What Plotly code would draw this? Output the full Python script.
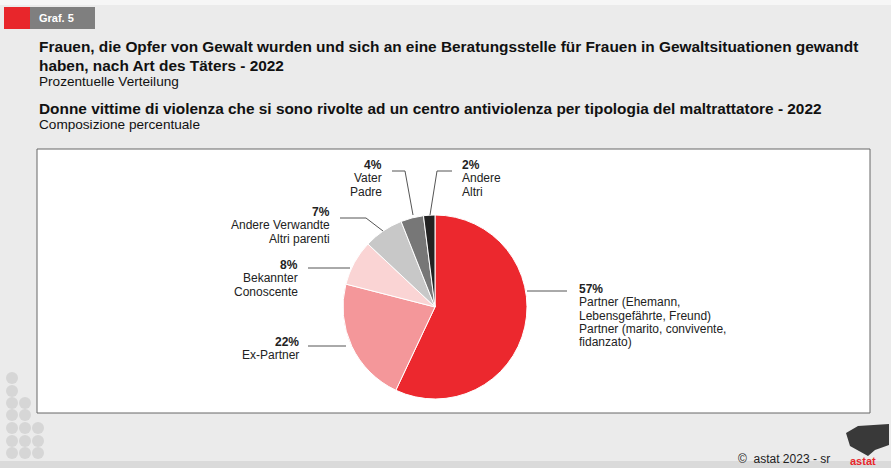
import plotly.graph_objects as go

# ---- data ----
categories = ["Partner", "Ex-Partner", "Bekannter", "Andere Verwandte", "Vater", "Andere"]
values = [57, 22, 8, 7, 4, 2]
label_lines = [
    ["Partner (Ehemann,", "Lebensgefährte, Freund)", "Partner (marito, convivente,", "fidanzato)"],
    ["Ex-Partner"],
    ["Bekannter", "Conoscente"],
    ["Andere Verwandte", "Altri parenti"],
    ["Vater", "Padre"],
    ["Andere", "Altri"],
]
colors = ["#ec282e", "#f4979a", "#fad4d4", "#c8c8c8", "#777777", "#222222"]

W, H = 891, 468
FONT = "Liberation Sans, Arial, sans-serif"


def px(x):
    return x / W


def py(y):
    return 1 - y / H


# pie geometry (pixels)
cx, cy, r = 435, 307, 92

fig = go.Figure()
fig.add_trace(go.Pie(
    labels=categories, values=values, sort=False, direction="clockwise",
    rotation=0, textinfo="none", hoverinfo="label+percent",
    marker=dict(colors=colors, line=dict(color="white", width=1)),
    domain=dict(x=[px(cx - r), px(cx + r)], y=[py(cy + r), py(cy - r)]),
    showlegend=False,
))

shapes = []
# bottom band
shapes.append(dict(type="rect", xref="paper", yref="paper",
                   x0=0, x1=1, y0=0, y1=py(461),
                   fillcolor="#dadada", line=dict(width=0), layer="below"))
# top header strip
shapes.append(dict(type="rect", xref="paper", yref="paper",
                   x0=0, x1=1, y0=py(5), y1=1,
                   fillcolor="#f6f6f6", line=dict(width=0), layer="below"))
# outer white chart panel
shapes.append(dict(type="rect", xref="paper", yref="paper",
                   x0=px(37), x1=px(870), y0=py(413), y1=py(149),
                   fillcolor="white", line=dict(color="#666666", width=1), layer="below"))
# header boxes
shapes.append(dict(type="rect", xref="paper", yref="paper",
                   x0=px(4), x1=px(30), y0=py(29), y1=py(7),
                   fillcolor="#e8262b", line=dict(width=0), layer="below"))
shapes.append(dict(type="rect", xref="paper", yref="paper",
                   x0=px(30), x1=px(95), y0=py(29), y1=py(7),
                   fillcolor="#7f7f7f", line=dict(width=0), layer="below"))

# decorative dots bottom-left
dot_rows = [(372, 1), (385, 1), (397, 2), (409, 2), (422, 3), (435, 3), (447, 3)]
for yy, n in dot_rows:
    for i in range(n):
        x0 = 6 + i * 13
        shapes.append(dict(type="circle", xref="paper", yref="paper",
                           x0=px(x0), x1=px(x0 + 12), y0=py(yy + 12), y1=py(yy),
                           fillcolor="#d6d6d6", line=dict(width=0), layer="below"))

# logo blob (approximate)
shapes.append(dict(type="path", xref="paper", yref="paper",
                   path="M {},{} L {},{} L {},{} L {},{} L {},{} L {},{} L {},{} Z".format(
                       px(846), py(433), px(858), py(426), px(889), py(424),
                       px(889), py(445), px(875), py(450), px(868), py(456), px(850), py(446)),
                   fillcolor="#1a1a1a", line=dict(width=0), opacity=0.85))

# leader lines (pixel polylines)
leaders = [
    [(527, 291), (567, 291)],
    [(308, 346), (346, 346)],
    [(308, 268), (350, 268)],
    [(340, 218), (366, 218), (383, 231)],
    [(392, 171), (405, 171), (413, 215)],
    [(452, 171), (437, 171), (430, 215)],
]
for pts in leaders:
    path = "M " + " L ".join(f"{px(x)},{py(y)}" for x, y in pts)
    shapes.append(dict(type="path", xref="paper", yref="paper", path=path,
                       line=dict(color="#555555", width=1)))

annotations = []
# (x, y-center of first line, align)
lab_pos = [
    (577, 289, "left"),
    (301, 342, "right"),
    (300, 265, "right"),
    (332, 212, "right"),
    (384, 165, "right"),
    (460, 165, "left"),
]
LH = 13.3
for v, lines, (x, y, al) in zip(values, label_lines, lab_pos):
    rows = [f"<b>{v}%</b>"] + lines
    for k, t in enumerate(rows):
        annotations.append(dict(xref="paper", yref="paper", x=px(x), y=py(y + k * LH),
                                xanchor=al, yanchor="middle", showarrow=False,
                                text=t, font=dict(family=FONT, size=12, color="#222222")))

titles = [
    (37, 47, "<b>Frauen, die Opfer von Gewalt wurden und sich an eine Beratungsstelle für Frauen in Gewaltsituationen gewandt</b>", 15.4),
    (37, 66, "<b>haben, nach Art des Täters - 2022</b>", 15.4),
    (37, 81, "Prozentuelle Verteilung", 13.6),
    (37, 108, "<b>Donne vittime di violenza che si sono rivolte ad un centro antiviolenza per tipologia del maltrattatore - 2022</b>", 15.4),
    (37, 125, "Composizione percentuale", 13.6),
]
for x, y, t, s in titles:
    annotations.append(dict(xref="paper", yref="paper", x=px(x), y=py(y),
                            xanchor="left", yanchor="middle", showarrow=False,
                            text=t, font=dict(family=FONT, size=s, color="#111111")))

annotations.append(dict(xref="paper", yref="paper", x=px(37), y=py(18),
                        xanchor="left", yanchor="middle", showarrow=False,
                        text="<b>Graf. 5</b>", font=dict(family=FONT, size=11, color="white")))
annotations.append(dict(xref="paper", yref="paper", x=px(736), y=py(459),
                        xanchor="left", yanchor="middle", showarrow=False,
                        text="©  astat 2023 - sr", font=dict(family=FONT, size=12, color="#222222")))
annotations.append(dict(xref="paper", yref="paper", x=px(848), y=py(461),
                        xanchor="left", yanchor="middle", showarrow=False,
                        text="<b>astat</b>", font=dict(family=FONT, size=11, color="#e8262b")))

fig.update_layout(
    width=W, height=H, margin=dict(l=0, r=0, t=0, b=0),
    paper_bgcolor="#ebebeb", plot_bgcolor="#ebebeb",
    shapes=shapes, annotations=annotations,
)

fig.write_html("out.html", config={"displayModeBar": False},
               post_script="document.body.style.margin='0';document.body.style.overflow='hidden';")
